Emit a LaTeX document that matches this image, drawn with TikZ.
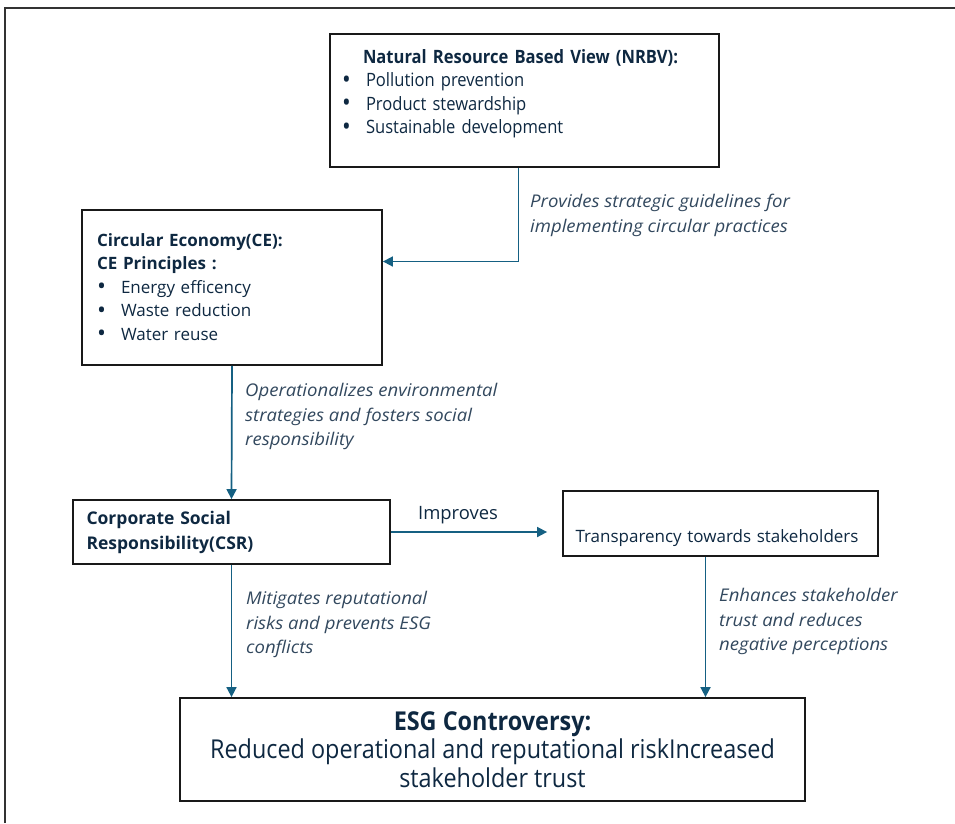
\documentclass[tikz,border=0pt]{standalone}
\usepackage{fontspec}
\setmainfont{Open Sans}
\newfontfamily\narrowfont[FakeStretch=0.9]{Open Sans}
\newfontfamily\notefont[FakeStretch=1.06]{Open Sans}
\usetikzlibrary{arrows.meta}
\usetikzlibrary{calc}

\definecolor{navy}{HTML}{0E2841}
\definecolor{teal}{HTML}{156082}

\tikzset{
  box/.style={draw=black!90, line width=1.8pt, inner sep=0pt, text=navy, align=left},
  flow/.style={draw=teal, line width=1.7pt, -{Triangle[length=10pt,width=10pt]}},
  note/.style={anchor=north west, inner sep=0pt, text=navy!85, align=left, font=\notefont\itshape\fontsize{17.5}{24.5}\selectfont}
}
\newcommand{\bul}[1]{\makebox[24pt][l]{\raisebox{-1.5pt}{\scalebox{1.4}{\textbullet}}}#1}

\begin{document}
\begin{tikzpicture}[x=1pt,y=-1pt]
\useasboundingbox (0,0) rectangle (955,823);
\draw[line width=2pt, black!80] (5,823) -- (5,8) -- (955,8);

\node[box, minimum width=389pt, minimum height=133pt, text width=365pt, font=\narrowfont\fontsize{18.4}{23.5}\selectfont] (nrbv) at (524.5,100.5)
  {\hspace*{21pt}\textbf{Natural Resource Based View (NRBV):}\\
   \bul{Pollution prevention}\\
   \bul{Product stewardship}\\
   \bul{Sustainable development}\\[-6pt]\mbox{}};
\node[box, minimum width=300pt, minimum height=155pt, text width=270pt, font=\fontsize{17}{23.5}\selectfont] (ce) at (232,287.5)
  {\textbf{Circular Economy(CE):}\\
   \textbf{CE Principles :}\\
   \bul{Energy efficency}\\
   \bul{Waste reduction}\\
   \bul{Water reuse}};
\node[box, minimum width=317pt, minimum height=64pt, text width=290pt, font=\fontsize{17.5}{25}\selectfont] (csr) at (231.5,532)
  {\textbf{Corporate Social}\\\textbf{Responsibility(CSR)}};
\node[box, minimum width=315pt, minimum height=65pt, text width=290pt, font=\fontsize{17}{20}\selectfont] (trans) at (720.5,523.5)
  {\\[22pt]Transparency towards stakeholders};
\node[box, minimum width=625pt, minimum height=103pt, align=center, font=\narrowfont\fontsize{26}{28.5}\selectfont] (esg) at (492.5,749.5)
  {\textbf{ESG Controversy:}\\Reduced operational and reputational riskIncreased\\stakeholder trust};

% connectors
\draw[flow] ($(nrbv.south)+(-6,0)$) |- ([yshift=26pt]ce.east);
\draw[flow] (ce.south) -- (csr.north);
\draw[flow] (csr.east) -- ([xshift=-15pt]trans.west |- csr.east);
\draw[flow] (csr.south) -- (csr.south |- esg.north);
\draw[flow] ([xshift=-15pt]trans.south) -- ([xshift=-15pt]trans.south |- esg.north);

% labels
\node[note] (provides) at (530,194) {Provides strategic guidelines for\\implementing circular practices};
\node[note] (operat) at (245,383) {Operationalizes environmental\\strategies and fosters social\\responsibility};
\node[anchor=north west, inner sep=0pt, text=navy, font=\fontsize{18.4}{20}\selectfont] (improves) at (418,506) {Improves};
\node[note] (mitig) at (246,591) {Mitigates reputational\\risks and prevents ESG\\conflicts};
\node[note] (enhan) at (719,588) {Enhances stakeholder\\trust and reduces\\negative perceptions};
\end{tikzpicture}
\end{document}
